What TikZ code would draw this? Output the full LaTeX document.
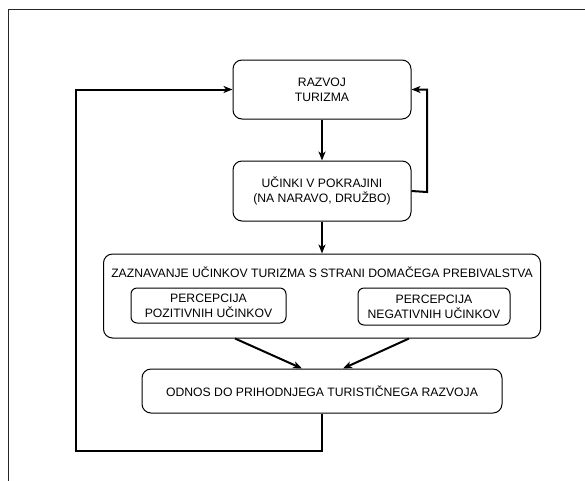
\documentclass[tikz,border=0pt]{standalone}
\usepackage{fontspec}
\setmainfont{Liberation Sans}
\usepackage{tikz}
\usetikzlibrary{arrows.meta,calc,positioning}
\tikzset{%
        x = 1pt,
        y = -1pt,
        font = \fontsize{12.2}{15}\selectfont,
        >={Stealth[length=9pt,width=7pt,inset=2.5pt]}
}
\tikzstyle{block}=[
    draw = black,
    line width = 1pt,
    rounded corners = 9pt,
    align = center,
    inner sep = 0pt
]
\tikzstyle{subblock}=[
    block,
    rounded corners = 6pt
]
\tikzstyle{flow}=[
    ->,
    draw = black,
    line width = 2pt
]

\begin{document}
\begin{tikzpicture}
    \useasboundingbox (0,0) rectangle (585,480);
    \clip (0,0) rectangle (585,480);
    \draw[line width=1pt, draw=black!85] (8,9.5) rectangle (620,520);

    \node[block, minimum width=178, minimum height=59] (razvoj) at (322,89.5) {RAZVOJ\\TURIZMA};
    \node[block, minimum width=178, minimum height=60] (ucinki) at (322,191) {UČINKI V POKRAJINI\\(NA NARAVO, DRUŽBO)};
    \node[block, minimum width=437, minimum height=84] (zaznavanje) at (322,296) {};
    \node[anchor=base] (naslov) at (322,277) {ZAZNAVANJE UČINKOV TURIZMA S STRANI DOMAČEGA PREBIVALSTVA};
    \node[subblock, minimum width=155, minimum height=35] (pozitivni) at (208.5,305.5) {PERCEPCIJA\\POZITIVNIH UČINKOV};
    \node[subblock, minimum width=152, minimum height=37] (negativni) at (434,306.5) {PERCEPCIJA\\NEGATIVNIH UČINKOV};
    \node[block, minimum width=360, minimum height=44] (odnos) at (322,391) {ODNOS DO PRIHODNJEGA TURISTIČNEGA RAZVOJA};

    \coordinate (loopR) at (427,192);
    \coordinate (loopL) at (76,451);

    \path[flow]
      (razvoj) edge (ucinki)
      (ucinki) edge (zaznavanje)
      ;
    \draw[flow] ([xshift=-87pt]zaznavanje.south) -- ([xshift=-20pt]odnos.north);
    \draw[flow] ([xshift=87pt]zaznavanje.south) -- ([xshift=21pt]odnos.north);
    \draw[flow] (ucinki.east) -- (loopR) |- (razvoj.east);
    \draw[flow] (odnos.south) |- (loopL) |- (razvoj.west);
\end{tikzpicture}
\end{document}
